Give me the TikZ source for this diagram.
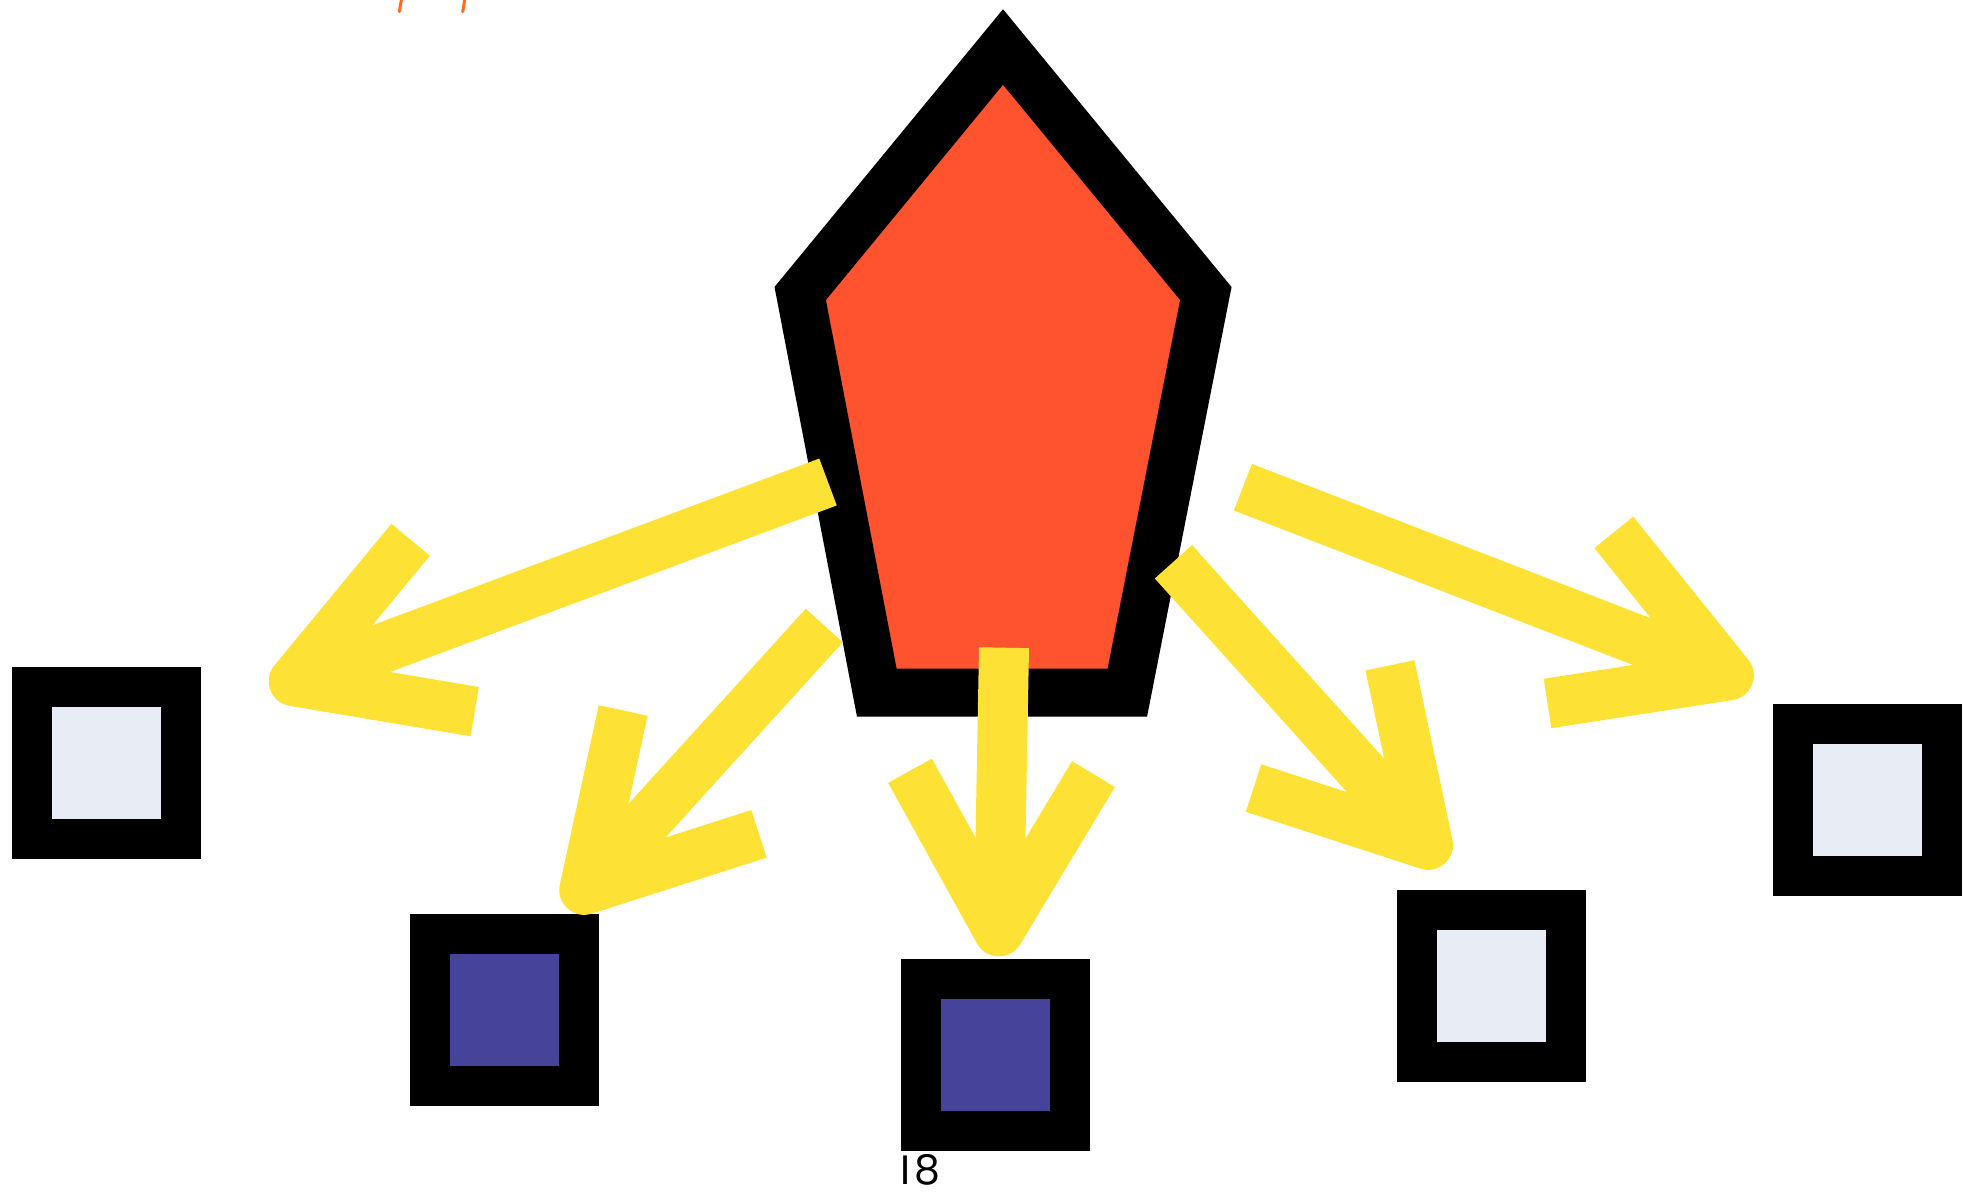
\documentclass[tikz,border=0pt]{standalone}
\usepackage{fontspec}
\newfontfamily\labelfont{Poppins}
\usetikzlibrary{calc}
\definecolor{penfill}{HTML}{FF5330}
\definecolor{arrowyellow}{HTML}{FDE235}
\definecolor{darkfill}{HTML}{46449A}
\definecolor{lightfill}{HTML}{E8ECF4}
\definecolor{markorange}{HTML}{FF6A1F}
\tikzset{
  box/.style={rectangle, draw=black, line width=20pt, minimum width=74.5pt, minimum height=76pt, inner sep=0pt},
  lightbox/.style={box, fill=lightfill},
  darkbox/.style={box, fill=darkfill},
  shaft/.style={draw=arrowyellow, line width=25pt, line cap=butt},
  chevron/.style={draw=arrowyellow, line width=25pt, line cap=butt, line join=round},
}
\begin{document}
\begin{tikzpicture}[x=0.5pt,y=-0.5pt]
\useasboundingbox (0,0) rectangle (1964,1193);
% squares
\node[lightbox] (b1) at (106.5,762.9) {};
\node[darkbox]  (b2) at (504.2,1010.2) {};
\node[darkbox]  (b3) at (995.2,1055.3) {};
\node[lightbox] (b4) at (1491.2,986.4) {};
\node[lightbox] (b5) at (1867,799.8) {};
% pentagon
\coordinate (p1) at (1003,47);
\coordinate (p2) at (1205.8,293.5);
\coordinate (p3) at (1127.3,692.7);
\coordinate (p4) at (876.8,692.7);
\coordinate (p5) at (800.2,293.5);
\draw[line width=24pt, fill=penfill, line join=miter, miter limit=10] (p1) -- (p2) -- (p3) -- (p4) -- (p5) -- cycle;
% arrows
\coordinate (a1s) at (828,482);     \coordinate (a1t) at (293.8,681.2);
\coordinate (a2s) at (824.2,625.5); \coordinate (a2t) at (584.3,889.8);
\coordinate (a3s) at (1004,647.7);  \coordinate (a3t) at (998.8,931.3);
\coordinate (a4s) at (1173.4,561.8);\coordinate (a4t) at (1428,844.8);
\coordinate (a5s) at (1242.9,487.2);\coordinate (a5t) at (1728.8,675.3);
\foreach \i in {1,...,5}{
  \draw[shaft] (a\i s) -- (a\i t);
  \draw[chevron] ($(a\i t)!91.75pt!30:(a\i s)$) -- (a\i t) -- ($(a\i t)!91.75pt!-30:(a\i s)$);
}
% orange marks at top edge
\coordinate (m1a) at (401.7,-2); \coordinate (m1b) at (399.3,11.7);
\coordinate (m2a) at (465,-2);   \coordinate (m2b) at (462.7,11.7);
\draw[markorange, line width=1.5pt, line cap=round] (m1a) -- (m1b) (m2a) -- (m2b);
% label
\node[inner sep=0pt, anchor=base] (lbl) at (920,1184.5) {\labelfont\fontsize{20.5pt}{24pt}\selectfont I\kern2pt 8};
\end{tikzpicture}
\end{document}
